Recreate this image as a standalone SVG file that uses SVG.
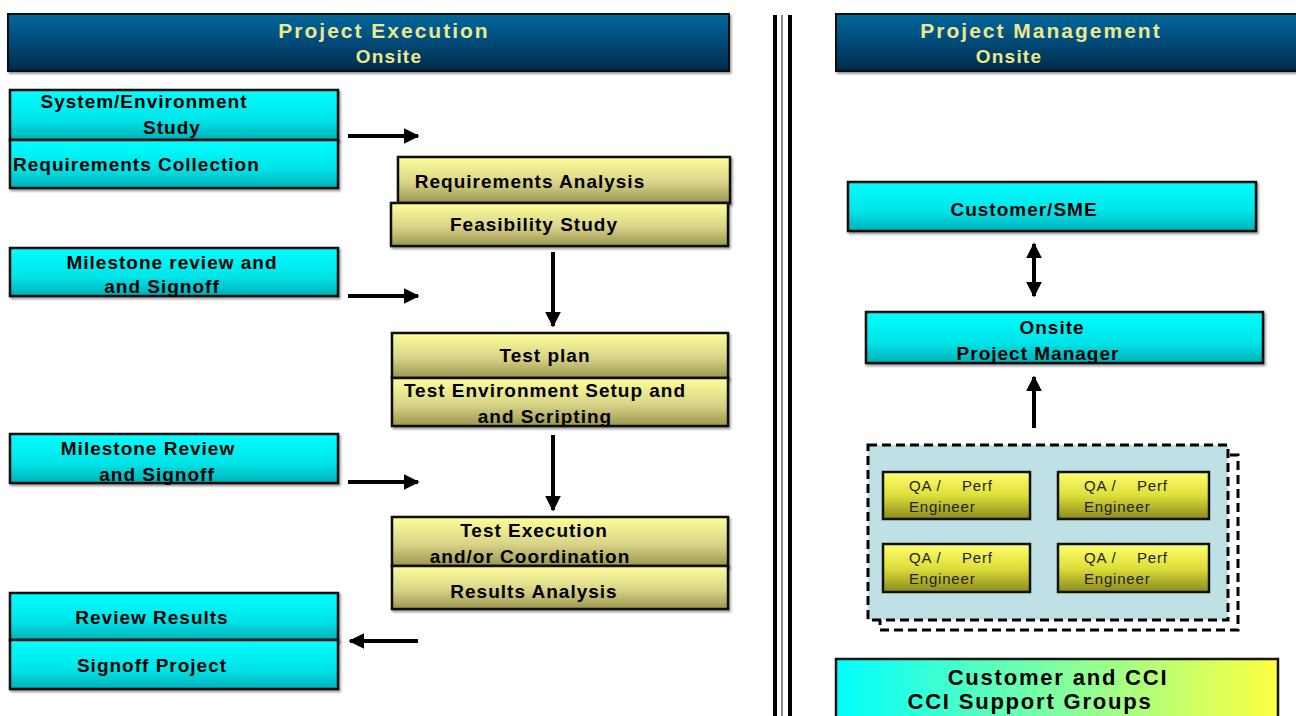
<svg xmlns="http://www.w3.org/2000/svg" width="1296" height="716" viewBox="0 0 1296 716">
<defs>
<linearGradient id="gHead" x1="0" y1="0" x2="0" y2="1"><stop offset="0" stop-color="#00689c"/><stop offset="0.5" stop-color="#004a78"/><stop offset="1" stop-color="#002a48"/></linearGradient>
<linearGradient id="gCyan" x1="0" y1="0" x2="0" y2="1"><stop offset="0" stop-color="#00ffff"/><stop offset="0.6" stop-color="#00e4e8"/><stop offset="1" stop-color="#00b0b8"/></linearGradient>
<linearGradient id="gYel" x1="0" y1="0" x2="0" y2="1"><stop offset="0" stop-color="#ffff9a"/><stop offset="0.55" stop-color="#d8d488"/><stop offset="1" stop-color="#9c9650"/></linearGradient>
<linearGradient id="gQA" x1="0" y1="0" x2="0" y2="1"><stop offset="0" stop-color="#ffff70"/><stop offset="0.5" stop-color="#dede3a"/><stop offset="1" stop-color="#8a8a20"/></linearGradient>
<linearGradient id="gCC" x1="0" y1="0" x2="1" y2="0"><stop offset="0" stop-color="#00ffff"/><stop offset="1" stop-color="#ffff40"/></linearGradient>
<marker id="ah" viewBox="0 0 10 10" refX="9" refY="5" markerWidth="4" markerHeight="4" orient="auto-start-reverse" markerUnits="strokeWidth"><path d="M0,0 L10,5 L0,10 Z" fill="#000"/></marker>
<filter id="sh" x="-5%" y="-10%" width="110%" height="130%"><feDropShadow dx="1.5" dy="2" stdDeviation="1" flood-color="#000" flood-opacity="0.4"/></filter>
</defs>
<style>
.head{fill:url(#gHead);stroke:#111;stroke-width:2}
.ht{font-family:"Liberation Sans",Arial,sans-serif;font-weight:bold;fill:#ece890;text-anchor:middle}
.h1{font-size:21px;letter-spacing:2px}
.h2{font-size:19px;letter-spacing:1.2px}
.cy{fill:url(#gCyan);stroke:#111;stroke-width:2.5}
.ye{fill:url(#gYel);stroke:#111;stroke-width:2.5}
.qa{fill:url(#gQA);stroke:#111;stroke-width:2.5}
.t{font-family:"Liberation Sans",Arial,sans-serif;font-weight:bold;font-size:19px;fill:#000;text-anchor:middle;letter-spacing:1px}
.tl{font-family:"Liberation Sans",Arial,sans-serif;font-weight:bold;font-size:19px;fill:#000;letter-spacing:1px}
.tb{font-family:"Liberation Sans",Arial,sans-serif;font-weight:bold;font-size:22px;fill:#000;text-anchor:middle;letter-spacing:1.8px}
.tq{font-family:"Liberation Sans",Arial,sans-serif;font-size:15px;fill:#222;letter-spacing:0.8px}
.ar{stroke:#000;stroke-width:4;fill:none;marker-end:url(#ah)}
</style>
<rect width="1296" height="716" fill="#fff"/>

<g id="header-exec">
<rect class="head" x="8" y="14" width="721" height="57" filter="url(#sh)"/>
<text class="ht h1" x="384" y="38">Project Execution</text>
<text class="ht h2" x="389" y="63">Onsite</text>
</g>
<g id="header-mgmt">
<rect class="head" x="836" y="14" width="470" height="57" filter="url(#sh)"/>
<text class="ht h1" x="1041" y="38">Project Management</text>
<text class="ht h2" x="1009" y="63">Onsite</text>
</g>

<g id="separator">
<line x1="775" y1="15" x2="775" y2="716" stroke="#000" stroke-width="4"/>
<line x1="782" y1="15" x2="782" y2="716" stroke="#888" stroke-width="2"/>
<line x1="790" y1="15" x2="790" y2="716" stroke="#000" stroke-width="4"/>
</g>

<g id="sys-env">
<rect class="cy" x="10" y="90" width="328" height="50" filter="url(#sh)"/>
<text class="t" x="144" y="108">System/Environment</text>
<text class="t" x="172" y="134">Study</text>
</g>
<g id="req-collect">
<rect class="cy" x="10" y="140" width="328" height="48" filter="url(#sh)"/>
<text class="tl" x="13" y="171">Requirements Collection</text>
</g>
<g id="milestone1">
<rect class="cy" x="10" y="248" width="328" height="48" filter="url(#sh)"/>
<text class="t" x="172" y="269">Milestone review and</text>
<text class="t" x="162" y="293">and Signoff</text>
</g>
<g id="milestone2">
<rect class="cy" x="10" y="434" width="328" height="49" filter="url(#sh)"/>
<text class="t" x="148" y="455">Milestone Review</text>
<text class="t" x="157" y="481">and Signoff</text>
</g>
<g id="review-results">
<rect class="cy" x="10" y="593" width="328" height="47" filter="url(#sh)"/>
<text class="t" x="152" y="624">Review Results</text>
</g>
<g id="signoff-project">
<rect class="cy" x="10" y="640" width="328" height="49" filter="url(#sh)"/>
<text class="t" x="152" y="672">Signoff Project</text>
</g>

<g id="req-analysis">
<rect class="ye" x="398" y="157" width="332" height="46" filter="url(#sh)"/>
<text class="t" x="530" y="188">Requirements Analysis</text>
</g>
<g id="feasibility">
<rect class="ye" x="391" y="203" width="337" height="43" filter="url(#sh)"/>
<text class="t" x="534" y="231">Feasibility Study</text>
</g>
<g id="test-plan">
<rect class="ye" x="392" y="333" width="336" height="45" filter="url(#sh)"/>
<text class="t" x="545" y="362">Test plan</text>
</g>
<g id="test-env">
<rect class="ye" x="392" y="378" width="336" height="48" filter="url(#sh)"/>
<text class="t" x="545" y="397">Test Environment Setup and</text>
<text class="t" x="545" y="423">and Scripting</text>
</g>
<g id="test-exec">
<rect class="ye" x="392" y="517" width="336" height="49" filter="url(#sh)"/>
<text class="t" x="534" y="537">Test Execution</text>
<text class="t" x="530" y="563">and/or Coordination</text>
</g>
<g id="results-analysis">
<rect class="ye" x="392" y="566" width="336" height="43" filter="url(#sh)"/>
<text class="t" x="534" y="598">Results Analysis</text>
</g>

<g id="customer-sme">
<rect class="cy" x="848" y="182" width="408" height="49" filter="url(#sh)"/>
<text class="t" x="1024" y="216">Customer/SME</text>
</g>
<g id="onsite-pm">
<rect class="cy" x="866" y="312" width="397" height="51" filter="url(#sh)"/>
<text class="t" x="1052" y="334">Onsite</text>
<text class="t" x="1038" y="360">Project Manager</text>
</g>

<g id="qa-team">
<rect x="880" y="455" width="358" height="175" fill="none" stroke="#000" stroke-width="3" stroke-dasharray="9,5"/>
<rect x="868" y="445" width="360" height="175" fill="#bfe0e4" stroke="#000" stroke-width="3" stroke-dasharray="9,5"/>
<g id="qa1"><rect class="qa" x="883" y="472" width="147" height="47"/><text class="tq" x="909" y="491">QA /</text><text class="tq" x="962" y="491">Perf</text><text class="tq" x="909" y="512">Engineer</text></g>
<g id="qa2"><rect class="qa" x="1058" y="472" width="151" height="47"/><text class="tq" x="1084" y="491">QA /</text><text class="tq" x="1137" y="491">Perf</text><text class="tq" x="1084" y="512">Engineer</text></g>
<g id="qa3"><rect class="qa" x="883" y="544" width="147" height="48"/><text class="tq" x="909" y="563">QA /</text><text class="tq" x="962" y="563">Perf</text><text class="tq" x="909" y="584">Engineer</text></g>
<g id="qa4"><rect class="qa" x="1058" y="544" width="151" height="48"/><text class="tq" x="1084" y="563">QA /</text><text class="tq" x="1137" y="563">Perf</text><text class="tq" x="1084" y="584">Engineer</text></g>
</g>

<g id="customer-cci">
<rect x="836" y="659" width="442" height="70" fill="url(#gCC)" stroke="#111" stroke-width="2.5"/>
<text class="tb" x="1058" y="685">Customer and CCI</text>
<text class="tb" x="1030" y="709">CCI Support Groups</text>
</g>

<g id="connectors">
<line class="ar" x1="348" y1="136" x2="418" y2="136"/>
<line class="ar" x1="348" y1="296" x2="418" y2="296"/>
<line class="ar" x1="348" y1="482" x2="418" y2="482"/>
<line class="ar" x1="418" y1="641" x2="350" y2="641"/>
<line class="ar" x1="553" y1="252" x2="553" y2="326"/>
<line class="ar" x1="553" y1="435" x2="553" y2="510"/>
<line class="ar" x1="1034" y1="244" x2="1034" y2="296" marker-start="url(#ah)"/>
<line class="ar" x1="1034" y1="428" x2="1034" y2="377"/>
</g>
</svg>
